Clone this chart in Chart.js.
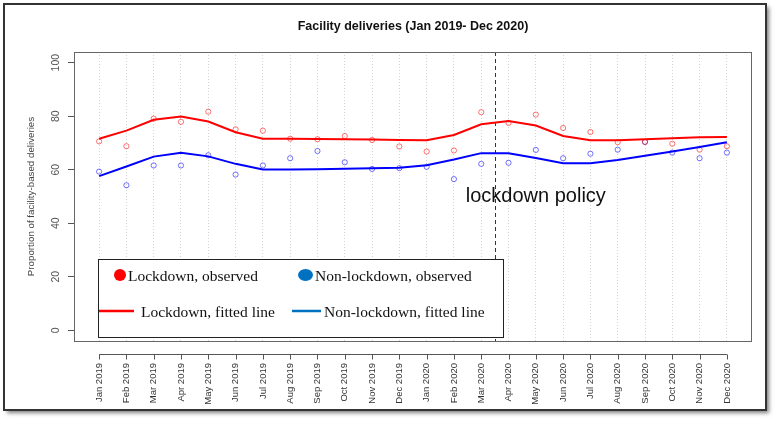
<!DOCTYPE html>
<html>
<head>
<meta charset="utf-8">
<script src="https://cdn.jsdelivr.net/npm/chart.js@4/dist/chart.umd.min.js"></script>
<style>
  html, body { margin: 0; padding: 0; background: #fff; }
  #wrap { width: 778px; height: 423px; }
</style>
</head>
<body>
<div id="wrap"><canvas id="chart" width="778" height="423"></canvas></div>
<script>
const months = ["Jan 2019","Feb 2019","Mar 2019","Apr 2019","May 2019","Jun 2019","Jul 2019","Aug 2019",
  "Sep 2019","Oct 2019","Nov 2019","Dec 2019","Jan 2020","Feb 2020","Mar 2020","Apr 2020","May 2020",
  "Jun 2020","Jul 2020","Aug 2020","Sep 2020","Oct 2020","Nov 2020","Dec 2020"];

const lockdownObs    = [70.6,68.8,79.1,77.9,81.7,75.1,74.6,71.6,71.4,72.6,71.1,68.7,66.8,67.2,81.5,77.5,80.6,75.6,74.1,70.3,70.4,69.7,67.5,68.8];
const nonLockdownObs = [59.3,54.2,61.6,61.6,65.4,58.2,61.6,64.3,67.0,62.8,60.3,60.6,61.1,56.5,62.2,62.6,67.4,64.3,66.0,67.5,70.4,66.4,64.3,66.4];
const lockdownFit    = [71.6,74.6,78.7,79.9,78.0,74.0,71.6,71.6,71.5,71.4,71.3,71.1,71.0,73.0,77.0,78.2,76.5,72.6,71.0,71.0,71.4,71.8,72.1,72.2];
const nonLockdownFit = [57.6,61.2,64.9,66.3,65.0,62.2,60.1,60.1,60.2,60.4,60.6,60.7,61.7,63.8,66.2,66.2,64.4,62.4,62.4,63.6,65.2,66.8,68.5,70.3];

const yTicks = [0, 20, 40, 60, 80, 100];
const policyAt = 14.5;               // between Mar 2020 and Apr 2020
const policyLabel = "lockdown policy";
const policyLabelAt = {x: 16, y: 50};
const chartTitle = "Facility deliveries (Jan 2019- Dec 2020)";

const pts = arr => arr.map((v, i) => ({x: i, y: v}));

// page background + outer frame with shadow
const framePlugin = {
  id: 'frame',
  beforeDraw(chart) {
    const ctx = chart.ctx;
    ctx.save();
    ctx.fillStyle = '#fff';
    ctx.fillRect(0, 0, chart.width, chart.height);
    ctx.shadowColor = 'rgba(0,0,0,0.5)';
    ctx.shadowBlur = 4;
    ctx.shadowOffsetX = 3;
    ctx.shadowOffsetY = 3;
    ctx.fillRect(4, 4, 762, 406);
    ctx.restore();
    ctx.save();
    ctx.strokeStyle = '#333';
    ctx.lineWidth = 2;
    ctx.strokeRect(4, 4, 762, 406);
    ctx.restore();
  }
};

// R-style box, offset x axis, rotated y labels, title, policy line
const decorPlugin = {
  id: 'decor',
  beforeDatasetsDraw(chart) {
    const {ctx, chartArea: a, scales: {x, y}} = chart;
    ctx.save();
    const px = Math.round(x.getPixelForValue(policyAt)) + 0.5;
    ctx.strokeStyle = '#333';
    ctx.lineWidth = 1;
    ctx.setLineDash([4, 3]);
    ctx.beginPath();
    ctx.moveTo(px, a.top);
    ctx.lineTo(px, a.bottom);
    ctx.stroke();
    ctx.restore();
  },
  afterDatasetsDraw(chart) {
    const {ctx, chartArea: a, scales: {x, y}} = chart;
    ctx.save();
    // plot box
    ctx.strokeStyle = '#666';
    ctx.lineWidth = 1;
    ctx.strokeRect(a.left + 0.5, a.top + 0.5, a.right - a.left - 1, a.bottom - a.top);

    // x axis line below box
    const ay = 354.5;
    const x0 = x.getPixelForValue(0), x1 = x.getPixelForValue(months.length - 1);
    ctx.strokeStyle = '#555';
    ctx.beginPath();
    ctx.moveTo(x0, ay);
    ctx.lineTo(x1, ay);
    months.forEach((m, i) => {
      const p = Math.round(x.getPixelForValue(i)) + 0.5;
      ctx.moveTo(p, ay);
      ctx.lineTo(p, ay + 5);
    });
    ctx.stroke();

    // y tick labels, rotated like R
    ctx.fillStyle = '#555';
    ctx.font = '10.5px Arial, "Liberation Sans"';
    ctx.textAlign = 'center';
    ctx.textBaseline = 'middle';
    yTicks.forEach(v => {
      ctx.save();
      ctx.translate(56, y.getPixelForValue(v));
      ctx.rotate(-Math.PI / 2);
      ctx.fillText(String(v), 0, 0);
      ctx.restore();
    });

    // title
    ctx.fillStyle = '#111';
    ctx.font = 'bold 12.5px Arial, "Liberation Sans"';
    ctx.fillText(chartTitle, (a.left + a.right) / 2, 27);

    // policy label
    ctx.font = '20px Arial, "Liberation Sans"';
    ctx.fillText(policyLabel, x.getPixelForValue(policyLabelAt.x), y.getPixelForValue(policyLabelAt.y));
    ctx.restore();

    // legend box
    const ds = chart.data.datasets;
    ctx.save();
    ctx.fillStyle = '#fff';
    ctx.fillRect(98, 259, 405, 78);
    ctx.strokeStyle = '#222';
    ctx.lineWidth = 1;
    ctx.strokeRect(98.5, 259.5, 405, 78);

    ctx.fillStyle = '#ff0000';
    ctx.beginPath(); ctx.arc(120, 275, 6, 0, Math.PI * 2); ctx.fill();
    ctx.fillStyle = '#0070c0';
    ctx.beginPath(); ctx.ellipse(305.5, 275, 7.5, 6, 0, 0, Math.PI * 2); ctx.fill();

    ctx.lineWidth = 2.5;
    ctx.strokeStyle = '#ff0000';
    ctx.beginPath(); ctx.moveTo(99, 311); ctx.lineTo(134, 311); ctx.stroke();
    ctx.strokeStyle = '#0070c0';
    ctx.beginPath(); ctx.moveTo(292, 311); ctx.lineTo(321, 311); ctx.stroke();

    ctx.fillStyle = '#111';
    ctx.font = '15.5px "Liberation Serif", "Times New Roman", serif';
    ctx.textAlign = 'left';
    ctx.textBaseline = 'alphabetic';
    ctx.fillText(ds[2].label, 128, 280.5);
    ctx.fillText(ds[3].label, 315, 280.5);
    ctx.fillText(ds[0].label, 141, 316.5);
    ctx.fillText(ds[1].label, 324, 316.5);
    ctx.restore();
  }
};

new Chart(document.getElementById('chart'), {
  type: 'line',
  data: {
    datasets: [
      {label: 'Lockdown, fitted line', data: pts(lockdownFit), borderColor: '#ff0000', borderWidth: 2,
       pointRadius: 0, tension: 0, fill: false},
      {label: 'Non-lockdown, fitted line', data: pts(nonLockdownFit), borderColor: '#0000ff', borderWidth: 2,
       pointRadius: 0, tension: 0, fill: false},
      {label: 'Lockdown, observed', data: pts(lockdownObs), showLine: false, pointRadius: 2.6,
       pointBorderWidth: 1, pointBorderColor: 'rgba(255,0,0,0.55)', pointBackgroundColor: 'rgba(0,0,0,0)'},
      {label: 'Non-lockdown, observed', data: pts(nonLockdownObs), showLine: false, pointRadius: 2.6,
       pointBorderWidth: 1, pointBorderColor: 'rgba(0,0,255,0.55)', pointBackgroundColor: 'rgba(0,0,0,0)'}
    ]
  },
  options: {
    responsive: false,
    devicePixelRatio: 1,
    animation: false,
    layout: {padding: {left: 0, right: 26, top: 52, bottom: 0}},
    plugins: {legend: {display: false}, tooltip: {enabled: false}, title: {display: false}},
    scales: {
      x: {
        type: 'linear', min: -0.92, max: 23.92,
        afterBuildTicks: s => { s.ticks = months.map((m, i) => ({value: i})); },
        afterFit: s => { s.height = 82; },
        ticks: {autoSkip: false, minRotation: 90, maxRotation: 90, padding: 22, color: '#333',
                font: {family: 'Arial, "Liberation Sans"', size: 9.5}, callback: v => months[v]},
        grid: {drawOnChartArea: true, drawTicks: false, color: '#d4d4d4', lineWidth: 1},
        border: {display: false, dash: [1, 2]}
      },
      y: {
        type: 'linear', min: -4, max: 104,
        afterBuildTicks: s => { s.ticks = yTicks.map(v => ({value: v})); },
        afterFit: s => { s.width = 74; },
        ticks: {display: false},
        grid: {drawOnChartArea: false, drawTicks: true, tickLength: 6, color: '#555'},
        border: {display: false},
        title: {display: true, text: 'Proportion of facility-based deliveries', color: '#444',
                font: {family: 'Arial, "Liberation Sans"', size: 9.75}, padding: {top: 25, bottom: 0}}
      }
    }
  },
  plugins: [framePlugin, decorPlugin]
});
</script>
</body>
</html>
